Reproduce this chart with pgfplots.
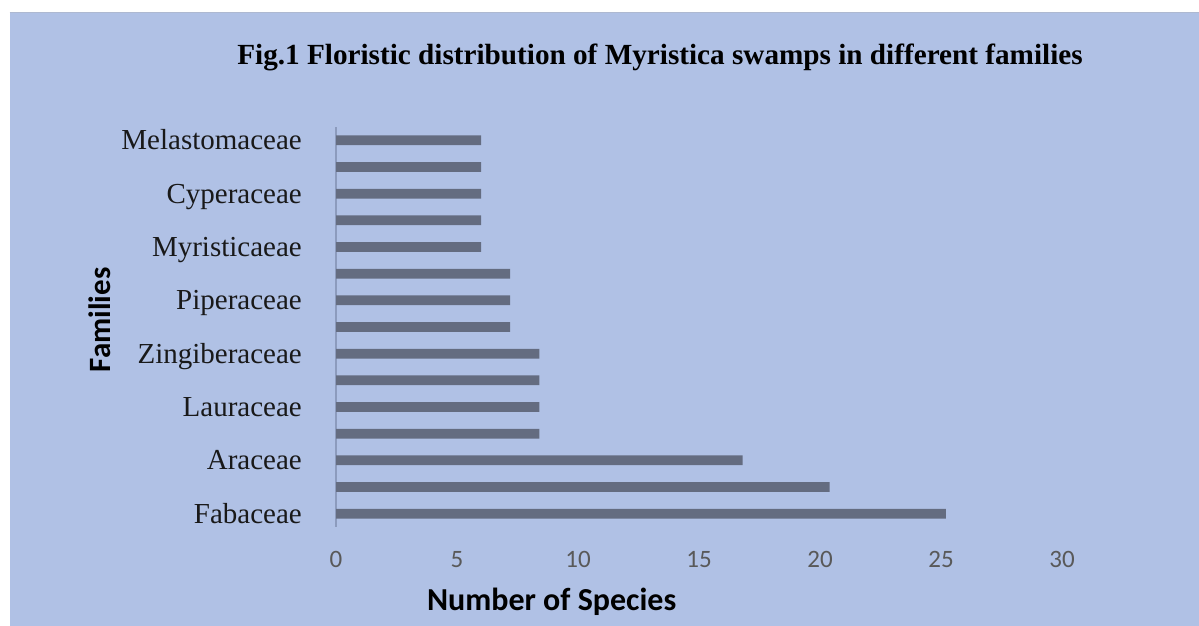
\documentclass[border=0pt]{standalone}
\usepackage{pgfplots}
\pgfplotsset{compat=1.18}
\usepackage{fontspec}
\setmainfont{Liberation Serif}
\newfontfamily\calibri{Carlito}

\definecolor{chartbg}{RGB}{176,193,229}
\definecolor{barcol}{RGB}{100,108,128}
\definecolor{axcol}{RGB}{140,155,189}
\definecolor{tickcol}{RGB}{89,89,89}

\begin{document}
\begin{tikzpicture}
    % page frame: 1199 x 626, 1pt per pixel
    \path[use as bounding box, fill=white] (0,0) rectangle (1199pt,626pt);
    \fill[chartbg] (9.5pt,0) rectangle (1199pt,614pt);
    \draw[axcol!70, line width=0.8pt] (9.5pt,614pt) -- (1199pt,614pt);

    \begin{axis}[%
        at = {(336pt,99pt)},
        anchor = south west,
        scale only axis,
        width = 726pt,
        height = 400pt,
        xbar,
        bar width = 9.7pt,
        bar shift = 0pt,
        xmin = 0, xmax = 30,
        ymin = -0.5, ymax = 14.5,
        axis lines* = left,
        x axis line style = {draw=none},
        y axis line style = {draw=axcol, line width=2pt},
        major tick length = 0pt,
        xtick = {0,5,...,30},
        ytick = {0,2,...,14},
        yticklabels = {Fabaceae, Araceae, Lauraceae, Zingiberaceae,
            Piperaceae, Myristicaeae, Cyperaceae, Melastomaceae},
        xticklabel style = {font=\calibri\fontsize{25}{27}\selectfont,
            text=tickcol, anchor=base, inner sep=0pt, yshift=-41pt},
        yticklabel style = {font=\fontsize{29}{31}\selectfont,
            text=black!90, anchor=base east, inner sep=0pt,
            xshift=-34pt, yshift=-9.5pt},
        /pgf/number format/assume math mode=true,
        clip = false,
    ]
    % number of species per family, bottom to top
    \addplot[fill=barcol, draw=none] coordinates {
        (25.2,0) (20.4,1) (16.8,2) (8.4,3) (8.4,4) (8.4,5) (8.4,6)
        (7.2,7) (7.2,8) (7.2,9) (6,10) (6,11) (6,12) (6,13) (6,14)
    };
    \end{axis}

    \node[anchor=base, font=\bfseries\fontsize{29.2}{31}\selectfont]
        at (660pt,561pt) {Fig.1 Floristic distribution of Myristica swamps in different families};
    \node[anchor=base, font=\calibri\bfseries\fontsize{32}{34}\selectfont]
        at (551.7pt,15.3pt) {Number of Species};
    \node[anchor=base, rotate=90, font=\calibri\bfseries\fontsize{31}{33}\selectfont]
        at (110pt,306pt) {Families};
\end{tikzpicture}
\end{document}
